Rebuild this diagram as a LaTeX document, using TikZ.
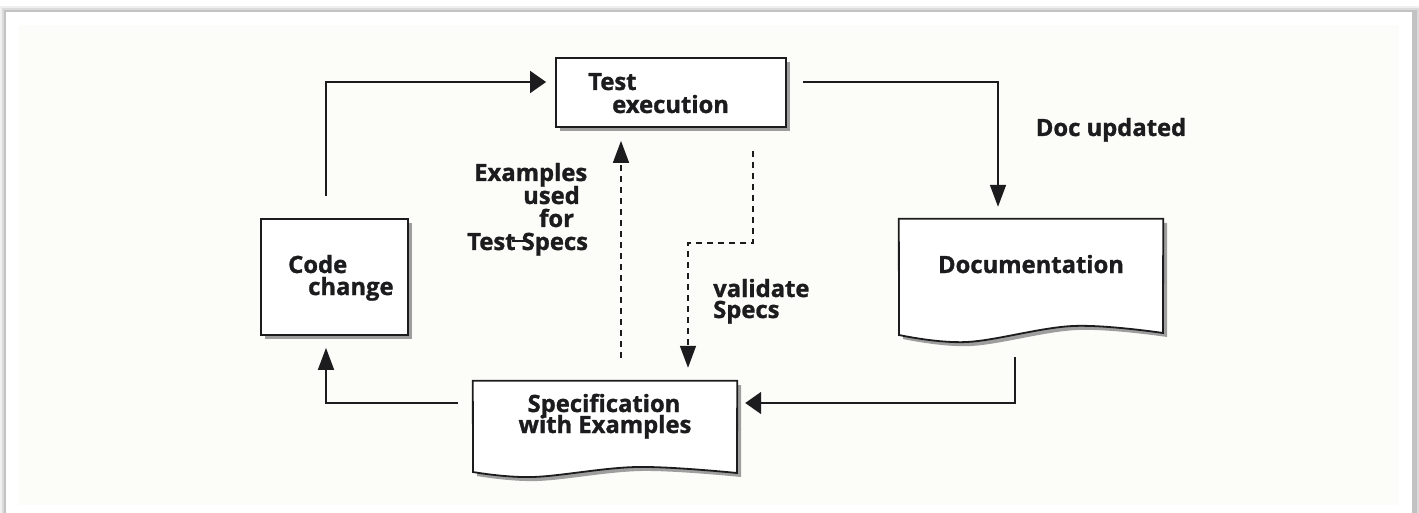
\documentclass[tikz,border=0pt]{standalone}
\usepackage{fontspec}
\setmainfont{Open Sans}[BoldFeatures={FakeBold=1.2}]
\usetikzlibrary{arrows.meta}
\definecolor{cream}{RGB}{252,253,248}
\definecolor{ink}{RGB}{28,28,30}
\tikzset{
  x=1pt, y=-1pt,
  txt/.style={inner sep=0pt, text=ink, font=\bfseries\fontsize{23.8}{23}\selectfont},
  procbox/.style={draw=ink, line width=1.8pt, fill=white, inner sep=0pt},
  docarea/.style={inner sep=0pt, draw=none},
  conn/.style={draw=ink, line width=1.7pt},
  dashconn/.style={draw=ink, line width=1.6pt, dash pattern=on 6pt off 5pt},
  harr/.style={-{Triangle[length=16pt,width=22pt]}},
  varr/.style={-{Triangle[length=22pt,width=16pt]}},
  boxshadow/.style={fill=black!38},
}
\begin{document}
\begin{tikzpicture}
\useasboundingbox (0,0) rectangle (1419,513);

% card with soft edge shadow, and the cream drawing area
\fill[black!6]  (0,6) rectangle (1419,520);
\fill[black!14] (2,8) rectangle (1419,520);
\fill[black!24] (4,10) rectangle (1417,520);
\fill[white] (6,12) rectangle (1412,520);
\fill[cream] (19,25) rectangle (1399,505);

% ---- process boxes ----
\fill[boxshadow] (265,223) rectangle (412,339);
\node[procbox, minimum width=147pt, minimum height=116pt] (code) at (334.5,277) {};
\node[txt, anchor=base west] (codeA) at (288,273) {Code};
\node[txt, anchor=base west] (codeB) at (308,295) {change};

\fill[boxshadow] (560,62) rectangle (790,131);
\node[procbox, minimum width=230pt, minimum height=69pt] (test) at (671,92.5) {};
\node[txt, anchor=base west] (testA) at (588,90) {Test};
\node[txt, anchor=base west] (testB) at (612,113) {execution};

% ---- document shapes (wavy bottom) ----
\node[docarea, minimum width=264pt, minimum height=116pt] (doc) at (1031,277) {};
\fill[boxshadow] (903,223) -- (1167,223)
   -- plot[smooth, tension=0.6] coordinates {(1167,337) (1077,330) (971,346) (903,339)} -- cycle;
\filldraw[fill=white, draw=ink, line width=1.8pt, line join=miter]
   (doc.north west) -- (doc.north east)
   -- plot[smooth, tension=0.6] coordinates {(1163,333) (1073,326) (967,342) (899,335)} -- cycle;
\node[txt, anchor=base] (docT) at (1031,273) {Documentation};

\node[docarea, minimum width=264pt, minimum height=91pt] (spec) at (605,426.5) {};
\fill[boxshadow] (477,385) -- (741,385)
   -- plot[smooth, tension=0.6] coordinates {(741,477) (641,471) (537,481) (477,476)} -- cycle;
\filldraw[fill=white, draw=ink, line width=1.8pt, line join=miter]
   (spec.north west) -- (spec.north east)
   -- plot[smooth, tension=0.6] coordinates {(737,473) (637,467) (533,477) (473,472)} -- cycle;
\node[txt, anchor=base] (specA) at (604,412) {Specification};
\node[txt, anchor=base] (specB) at (605,433) {with Examples};

% ---- solid connectors ----
\draw[conn, harr] ([xshift=-8.5pt, yshift=22pt]code.north) |- ([xshift=-9pt, yshift=10.5pt]test.west);
\draw[conn, varr] ([xshift=16pt, yshift=10.5pt]test.east) -| ([xshift=-33pt, yshift=12pt]doc.north);
\draw[conn, harr] ([xshift=-16pt, yshift=-22pt]doc.south) |- ([xshift=8pt, yshift=23.5pt]spec.east);
\draw[conn, varr] ([xshift=-15pt, yshift=23.5pt]spec.west) -| ([xshift=-8.5pt, yshift=-12pt]code.south);

% ---- dashed connectors ----
\draw[dashconn, varr] ([xshift=16pt, yshift=23pt]spec.north) -- ([xshift=-50pt, yshift=-13pt]test.south);
\coordinate (bend) at (688,243);
\draw[dashconn, varr] ([xshift=82pt, yshift=-23pt]test.south) |- (bend) -- ([xshift=83pt, yshift=13pt]spec.north);

% ---- labels ----
\node[txt, anchor=base] (upd) at (1111,136) {Doc updated};
\node[txt, anchor=base west] (valA) at (713,297) {validate};
\node[txt, anchor=base west] (valB) at (713,318) {Specs};
\node[txt, anchor=base west] (exA) at (474,181) {Examples};
\node[txt, anchor=base west] (exB) at (523,204) {used};
\node[txt, anchor=base west] (exC) at (539,227) {for};
\node[txt, anchor=base west] (exD) at (467,250) {Test Specs};
\draw[ink, line width=1.4pt] (512,241) -- (531,241);
\end{tikzpicture}
\end{document}
